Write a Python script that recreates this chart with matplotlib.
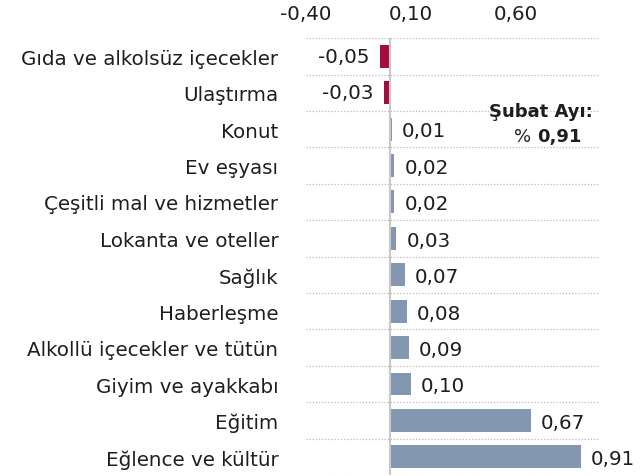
import matplotlib
matplotlib.use("Agg")
import matplotlib.pyplot as plt

categories = ["Gıda ve alkolsüz içecekler", "Ulaştırma", "Konut", "Ev eşyası",
              "Çeşitli mal ve hizmetler", "Lokanta ve oteller", "Sağlık",
              "Haberleşme", "Alkollü içecekler ve tütün", "Giyim ve ayakkabı",
              "Eğitim", "Eğlence ve kültür"]
values = [-0.05, -0.03, 0.01, 0.02, 0.02, 0.03, 0.07, 0.08, 0.09, 0.10, 0.67, 0.91]
ticks = [-0.40, 0.10, 0.60]

plt.rcParams['font.family'] = ['DejaVu Sans']
fs = 14.3
txt = '#1e1e1e'

fig = plt.figure(figsize=(6.43, 4.77), dpi=100)
ax = fig.add_axes([0.476, 0.002, 0.457, 0.916])

n = len(categories)
ypos = list(range(n))
colors = ['#A50D3C' if v < 0 else '#8497B0' for v in values]
ax.barh(ypos, values, height=0.63, color=colors, zorder=2)

ax.set_xlim(-0.4, 1.0)
ax.set_ylim(n - 0.5, -0.5)
ax.set_xticks(ticks)
ax.set_xticklabels([f"{t:.2f}".replace('.', ',') for t in ticks], fontsize=fs, color=txt)
ax.xaxis.tick_top()
ax.tick_params(axis='x', length=0, pad=11)
ax.set_yticks(ypos)
ax.set_yticklabels(categories, fontsize=fs, color=txt)
ax.tick_params(axis='y', length=0, pad=20)

for s in ax.spines.values():
    s.set_visible(False)

# dotted separators between categories
for k in range(n + 1):
    ax.axhline(k - 0.5, color='#bbbbbb', lw=0.9, ls=(0, (1, 1.5)), zorder=1)
ax.axvline(0, color='#c8c8c8', lw=1.5, zorder=3)

for y, v in zip(ypos, values):
    lab = f"{v:.2f}".replace('.', ',')
    if v < 0:
        ax.text(v - 0.05, y, lab, ha='right', va='center', fontsize=fs, color=txt)
    else:
        ax.text(v + 0.048, y + 0.05, lab, ha='left', va='center', fontsize=fs, color=txt)

ax.text(0.72, 1.5, "Şubat Ayı:", ha='center', va='center', fontsize=13,
        fontweight='bold', color=txt)
ax.text(0.70, 2.2, "% ", ha='right', va='center', fontsize=13, color=txt)
ax.text(0.70, 2.2, "0,91", ha='left', va='center', fontsize=13,
        fontweight='bold', color=txt)

fig.savefig("out.png", dpi=100)
